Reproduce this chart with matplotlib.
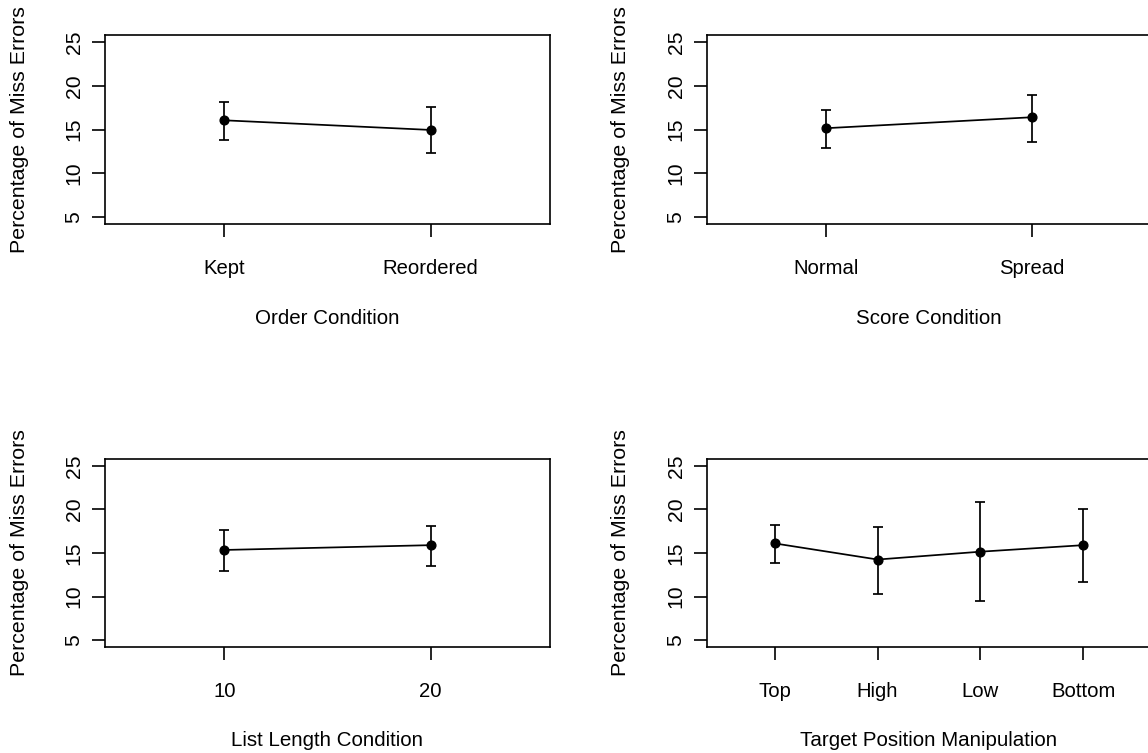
import matplotlib.pyplot as plt

plt.rcParams['font.family'] = ['Liberation Sans', 'DejaVu Sans']

# values (mean with lower / upper error bar ends)
order_labels = ['Kept', 'Reordered']
order_mean = [16.05, 14.95]
order_low = [13.85, 12.35]
order_high = [18.15, 17.6]

score_labels = ['Normal', 'Spread']
score_mean = [15.15, 16.4]
score_low = [12.9, 13.6]
score_high = [17.25, 19.0]

length_labels = ['10', '20']
length_mean = [15.35, 15.9]
length_low = [12.9, 13.45]
length_high = [17.65, 18.15]

position_labels = ['Top', 'High', 'Low', 'Bottom']
position_mean = [16.1, 14.25, 15.15, 15.9]
position_low = [13.85, 10.25, 9.5, 11.7]
position_high = [18.2, 18.0, 20.9, 20.0]

yticks = [5, 10, 15, 20, 25]
ylabel = 'Percentage of Miss Errors'

W, H = 1148, 753
fig = plt.figure(figsize=(W / 100, H / 100), dpi=100)


def px_axes(x0, y0, x1, y1):
    # box given in pixel coords, origin top-left
    return fig.add_axes([x0 / W, (H - y1) / H, (x1 - x0) / W, (y1 - y0) / H])


def panel(ax, labels, mean, low, high, xlabel):
    n = len(labels)
    xs = list(range(1, n + 1))
    yerr = [[m - l for m, l in zip(mean, low)], [h - m for m, h in zip(mean, high)]]
    ax.errorbar(xs, mean, yerr=yerr, fmt='-o', color='black', ms=6.3, lw=1.25,
                elinewidth=1.25, capsize=3.3, capthick=1.25)
    span = n
    ax.set_xlim(0.5 - 0.04 * span, n + 0.5 + 0.04 * span)
    ax.set_ylim(5 - 0.8, 25 + 0.8)
    ax.set_xticks(xs)
    ax.set_xticklabels(labels, fontsize=14.6)
    ax.set_yticks(yticks)
    ax.set_yticklabels([str(t) for t in yticks], rotation=90, va='center', fontsize=15.2)
    ax.tick_params(axis='both', length=9.4, width=1.2, color='black')
    ax.tick_params(axis='x', pad=16)
    ax.tick_params(axis='y', pad=6)
    for s in ax.spines.values():
        s.set_linewidth(1.2)
    ax.set_xlabel(xlabel, fontsize=14.8)
    ax.set_ylabel(ylabel, fontsize=15.4)
    ax.xaxis.label.set_va('center')
    ax.yaxis.label.set_va('center')
    bw = ax.get_position().width * W
    bh = ax.get_position().height * H
    ax.yaxis.set_label_coords(-86 / bw, 0.5)
    ax.xaxis.set_label_coords(0.5, -94 / bh)


ax1 = px_axes(105, 35, 550, 224)
panel(ax1, order_labels, order_mean, order_low, order_high, 'Order Condition')

ax2 = px_axes(707, 35, 1151, 224)
panel(ax2, score_labels, score_mean, score_low, score_high, 'Score Condition')

ax3 = px_axes(105, 459, 550, 647)
panel(ax3, length_labels, length_mean, length_low, length_high, 'List Length Condition')

ax4 = px_axes(707, 459, 1151, 647)
panel(ax4, position_labels, position_mean, position_low, position_high,
      'Target Position Manipulation')

plt.savefig('out.png', dpi=100)
